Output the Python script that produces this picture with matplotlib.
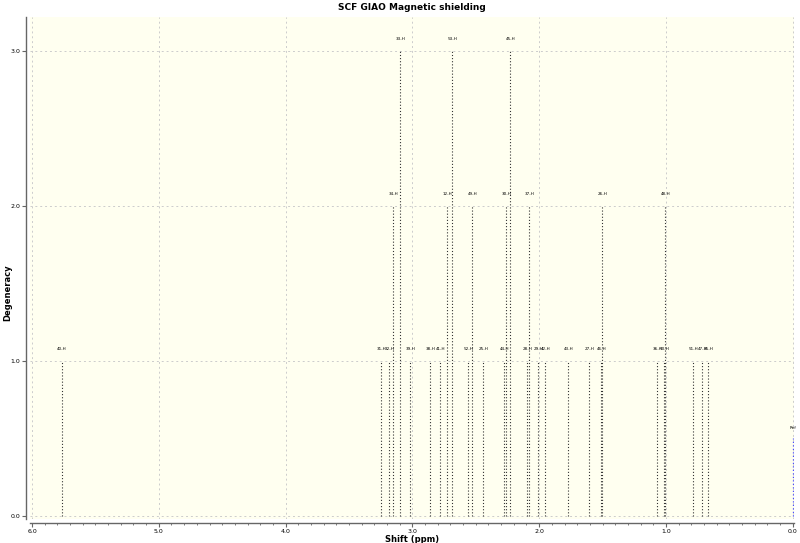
import matplotlib
matplotlib.use("Agg")
import matplotlib.pyplot as plt
from matplotlib.ticker import MultipleLocator, FormatStrFormatter

# shielding peaks: label, shift (ppm), degeneracy
labels = ["40-H", "31-H", "32-H", "34-H", "33-H", "39-H", "38-H", "41-H", "12-H", "53-H",
          "52-H", "49-H", "25-H", "44-H", "30-H", "45-H", "28-H", "37-H", "29-H", "42-H",
          "43-H", "27-H", "46-H", "26-H", "36-H", "50-H", "48-H", "51-H", "47-H", "35-H"]
shifts = [5.763, 3.245, 3.182, 3.151, 3.096, 3.017, 2.859, 2.780, 2.725, 2.685,
          2.559, 2.527, 2.440, 2.275, 2.259, 2.227, 2.093, 2.077, 2.006, 1.951,
          1.770, 1.604, 1.509, 1.502, 1.067, 1.012, 1.004, 0.785, 0.714, 0.667]
degeneracy = [1, 1, 1, 2, 3, 1, 1, 1, 2, 3,
              1, 2, 1, 1, 2, 3, 1, 2, 1, 1,
              1, 1, 1, 2, 1, 1, 2, 1, 1, 1]
ref_shift = 0.0
ref_height = 0.5

fig = plt.figure(figsize=(8, 5.43), dpi=100)
ax = fig.add_axes([30 / 800, 1 - 519 / 543, 764 / 800, 502 / 543])
ax.set_facecolor("#fffff0")

ax.vlines(shifts, 0, degeneracy, colors="#333333", linewidth=0.8, linestyles=(0, (1, 1.8)))
for lab, x, d in zip(labels, shifts, degeneracy):
    ax.text(x, d + 0.08, lab, ha="center", va="center", fontsize=3.0, color="black")

ax.vlines([ref_shift], 0, ref_height, colors="#4b4bff", linewidth=0.9, linestyles=(0, (1, 1.8)))
ax.text(ref_shift, ref_height + 0.07, "Ref", ha="center", va="center", fontsize=3.0)

ax.set_xlim(6.016, -0.01)
ax.set_ylim(-0.02, 3.22)
ax.xaxis.set_major_locator(MultipleLocator(1.0))
ax.xaxis.set_minor_locator(MultipleLocator(0.1))
ax.yaxis.set_major_locator(MultipleLocator(1.0))
ax.xaxis.set_major_formatter(FormatStrFormatter("%.1f"))
ax.yaxis.set_major_formatter(FormatStrFormatter("%.1f"))

ax.grid(True, which="major", color="#cccccc", linestyle=(0, (2, 3)), linewidth=0.7)
ax.set_axisbelow(True)

for s in ["top", "right"]:
    ax.spines[s].set_visible(False)
for s in ["left", "bottom"]:
    ax.spines[s].set_position(("outward", 3))
    ax.spines[s].set_color("#666666")
    ax.spines[s].set_linewidth(1.0)

ax.tick_params(axis="both", which="major", labelsize=4.5, length=3, color="#666666", pad=1)
ax.tick_params(axis="x", which="minor", length=1.5, color="#666666")

ax.set_xlabel("Shift (ppm)", fontsize=6, fontweight="bold", va="center")
ax.xaxis.set_label_coords(0.5, -0.041)
ax.set_ylabel("Degeneracy", fontsize=6, fontweight="bold", va="center")
ax.yaxis.set_label_coords(-0.029, 0.45)
ax.set_title("SCF GIAO Magnetic shielding", fontsize=6.5, fontweight="bold", pad=5)

fig.savefig("out.png", dpi=100)
